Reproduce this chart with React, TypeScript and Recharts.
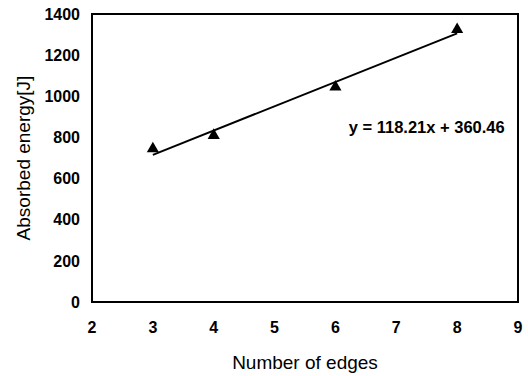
import {
  ComposedChart,
  Line,
  Scatter,
  XAxis,
  YAxis,
  ReferenceArea,
  ReferenceDot,
} from "recharts";

const edges = [3, 4, 6, 8];
const energy = [745, 810, 1045, 1325];

const slope = 118.21;
const intercept = 360.46;
const trendX = [3, 8];

const xTicks = [2, 3, 4, 5, 6, 7, 8, 9];
const yTicks = [0, 200, 400, 600, 800, 1000, 1200, 1400];

const points = edges.map((x, i) => ({ x, y: energy[i] }));
const trend = trendX.map((x) => ({ x, y: slope * x + intercept }));

const FONT = "'Liberation Sans', Arial, sans-serif";

const App = () => {
  return (
    <div style={{ position: "fixed", left: 0, top: 0, background: "#fff" }}>
      <ComposedChart
        width={528}
        height={376}
        margin={{ top: 14, right: 10, bottom: 0, left: 0 }}
      >
        <XAxis
          type="number"
          dataKey="x"
          domain={[2, 9]}
          ticks={xTicks}
          height={74}
          stroke="#000"
          strokeWidth={2}
          tickLine={false}
          tickSize={0}
          tickMargin={20}
          tick={{ fill: "#000", fontSize: 16, fontWeight: "bold", fontFamily: FONT }}
          label={{
            value: "Number of edges",
            position: "insideBottom",
            offset: 7,
            style: { fill: "#000", fontSize: 19, fontFamily: FONT },
          }}
        />
        <YAxis
          type="number"
          domain={[0, 1400]}
          ticks={yTicks}
          width={92}
          stroke="#000"
          strokeWidth={2}
          tickLine={false}
          tickSize={0}
          tickMargin={12}
          tick={{ fill: "#000", fontSize: 16, fontWeight: "bold", fontFamily: FONT }}
          label={{
            value: "Absorbed energy[J]",
            angle: -90,
            position: "insideLeft",
            offset: 23,
            style: { textAnchor: "middle", fill: "#000", fontSize: 19, fontFamily: FONT },
          }}
        />
        <ReferenceArea
          x1={2}
          x2={9}
          y1={0}
          y2={1400}
          fill="none"
          stroke="#000"
          strokeWidth={2}
          ifOverflow="visible"
        />
        <Line
          data={trend}
          dataKey="y"
          stroke="#000"
          strokeWidth={2}
          dot={false}
          isAnimationActive={false}
        />
        <Scatter
          data={points}
          dataKey="y"
          shape="triangle"
          fill="#000"
          legendType="triangle"
          isAnimationActive={false}
        />
        <ReferenceDot
          x={7.5}
          y={850}
          r={0}
          fill="none"
          stroke="none"
          label={{
            value: "y = 118.21x + 360.46",
            position: "center",
            style: { fill: "#000", fontSize: 16.5, fontWeight: "bold", fontFamily: FONT },
          }}
        />
      </ComposedChart>
    </div>
  );
};

export default App;
